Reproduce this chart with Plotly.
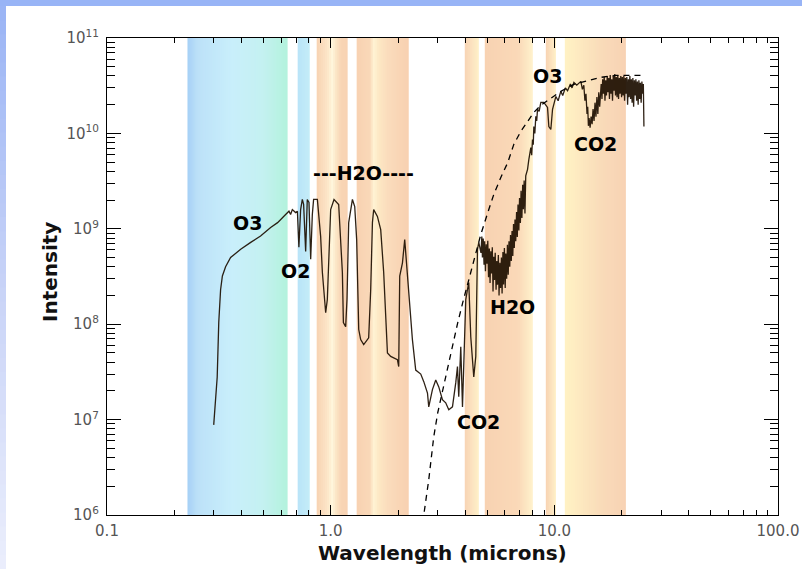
import numpy as np
import plotly.graph_objects as go

# ---------------- data ----------------
spec_wl = [0.30, 0.311, 0.316, 0.322, 0.328, 0.339, 0.357, 0.396, 0.439, 0.486,
           0.539, 0.579, 0.629, 0.651, 0.662, 0.674, 0.697, 0.710, 0.721, 0.734,
           0.747, 0.757, 0.773, 0.786, 0.800, 0.814, 0.828, 0.839, 0.872, 0.902,
           0.918, 0.950, 0.966, 1.0, 1.035, 1.086, 1.128, 1.14, 1.167, 1.183,
           1.204, 1.251, 1.281, 1.307, 1.335, 1.362, 1.405, 1.479, 1.510, 1.537,
           1.557, 1.618, 1.674, 1.726, 1.794, 1.855, 1.988, 2.015, 2.036, 2.094,
           2.143, 2.204, 2.279, 2.320, 2.400, 2.528, 2.608, 2.709, 2.745, 2.851,
           2.950, 3.043, 3.160, 3.269, 3.373, 3.504, 3.625, 3.689, 3.738, 3.817,
           3.885, 3.937, 4.018, 4.089, 4.144, 4.230, 4.305, 4.363, 4.455, 4.533,
           4.594,
           4.70, 4.74, 4.77, 4.81, 4.85, 4.88, 4.92, 4.96, 5.00, 5.04,
           5.08, 5.12, 5.16, 5.20, 5.24, 5.28, 5.32, 5.36, 5.40, 5.44,
           5.49, 5.53, 5.57, 5.62, 5.66, 5.71, 5.75, 5.80, 5.84, 5.89,
           5.93, 5.98, 6.03, 6.07, 6.12, 6.17, 6.22, 6.27, 6.32, 6.37,
           6.42, 6.47, 6.52, 6.57, 6.62, 6.67, 6.72, 6.78, 6.83, 6.88,
           6.94, 6.99, 7.05, 7.10, 7.16, 7.22, 7.27, 7.33, 7.39, 7.45,
           7.59, 7.69, 7.85, 7.92, 7.987, 8.05, 8.096, 8.18, 8.265, 8.34, 8.411, 8.55, 8.703,
           8.974, 9.324, 9.450, 9.646, 9.817, 10.16, 10.40, 10.69, 10.90, 11.20,
           11.46, 11.80, 12.00, 12.23, 12.60, 13.14, 13.35, 13.55, 13.70, 13.85,
           14.00, 14.10, 14.20, 14.30, 14.45, 14.60, 14.75, 14.90, 15.05, 15.20,
           15.35, 15.50, 15.65, 15.80, 15.95, 16.10,
           16.20, 16.33, 16.45, 16.58, 16.71, 16.84, 16.97, 17.10, 17.24, 17.37,
           17.51, 17.64, 17.78, 17.92, 18.06, 18.20, 18.34, 18.48, 18.63, 18.77,
           18.92, 19.07, 19.22, 19.37, 19.52, 19.67, 19.82, 19.98, 20.13, 20.29,
           20.45, 20.61, 20.77, 20.93, 21.09, 21.26, 21.42, 21.59, 21.76, 21.93,
           22.10, 22.27, 22.44, 22.62, 22.79, 22.97, 23.15, 23.33, 23.51, 23.70,
           23.88, 24.07, 24.25, 24.44, 24.63, 24.82, 25.00, 25.15]
spec_int = [8.8e6, 2.8e7, 1.04e8, 2.3e8, 3.2e8, 4.0e8, 5.0e8, 6.1e8, 7.2e8, 8.4e8,
            1.03e9, 1.16e9, 1.41e9, 1.53e9, 1.41e9, 1.59e9, 1.48e9, 1.53e9, 6.4e8, 1.59e9,
            2.03e9, 1.8e9, 5.8e8, 2.03e9, 1.89e9, 4.8e8, 1.41e9, 2.03e9, 2.03e9, 8.3e8,
            3.5e8, 1.32e8, 1.81e8, 1.59e9, 2.03e9, 1.8e9, 3.5e8, 1.04e8, 9.4e7, 1.81e8,
            1.16e9, 2.03e9, 1.71e9, 7.7e8, 8.8e7, 6.9e7, 6.1e7, 7.2e7, 2.3e8, 1.16e9,
            1.59e9, 1.35e9, 9.8e8, 3.5e8, 5.0e7, 4.6e7, 4.25e7, 3.6e7, 3.2e8, 4.4e8,
            7.7e8, 3.5e8, 1.12e8, 6.9e7, 3.3e7, 3.0e7, 2.5e7, 1.9e7, 1.36e7, 2.06e7,
            2.6e7, 2.2e7, 1.62e7, 1.5e7, 1.27e7, 1.36e7, 2.44e7, 3.6e7, 1.74e7, 5.8e7,
            1.36e7, 3.95e7, 1.81e8, 2.31e8, 2.73e8, 7.4e7, 4.6e7, 2.8e7, 4.6e7, 6.1e8,
            7.2e8,
            5.6e8, 8.3e8, 5.0e8, 7.9e8, 4.2e8, 7.4e8, 3.6e8, 6.9e8, 4.3e8, 7.5e8,
            3.1e8, 6.2e8, 2.7e8, 5.8e8, 3.4e8, 6.4e8, 2.2e8, 5.1e8, 2.9e8, 5.6e8,
            2.3e8, 4.6e8, 2.6e8, 5.3e8, 2.0e8, 4.4e8, 2.4e8, 5.0e8, 2.1e8, 5.7e8,
            2.6e8, 6.3e8, 2.4e8, 5.5e8, 3.0e8, 6.8e8, 3.3e8, 7.4e8, 4.0e8, 8.6e8,
            4.6e8, 9.5e8, 5.2e8, 1.12e9, 6.3e8, 1.25e9, 7.4e8, 1.5e9, 8.2e8, 1.8e9,
            9.6e8, 2.1e9, 1.15e9, 2.5e9, 1.3e9, 2.9e9, 1.6e9, 3.2e9, 1.45e9, 3.6e9,
            4.2e9, 5.3e9, 7.1e9, 5.9e9, 8.65e9, 7.6e9, 1.18e10, 1.0e10, 1.51e10, 1.35e10, 1.79e10, 1.7e10, 2.11e10,
            2.11e10, 1.87e10, 1.18e10, 1.10e10, 1.79e10, 2.44e10, 2.2e10, 2.76e10, 2.5e10, 3.0e10,
            2.8e10, 3.3e10, 3.0e10, 3.43e10, 3.2e10, 3.51e10, 2.9e10, 3.2e10, 2.2e10, 2.6e10,
            1.6e10, 1.9e10, 1.2e10, 1.45e10, 1.15e10, 1.5e10, 1.25e10, 1.8e10, 1.35e10, 2.1e10,
            1.5e10, 2.4e10, 1.6e10, 2.7e10, 1.9e10, 3.1e10,
            3.3e10, 2.3e10, 3.7e10, 2.6e10, 3.9e10, 2.2e10, 3.6e10, 2.5e10, 4.0e10, 2.7e10,
            3.8e10, 2.3e10, 4.1e10, 2.6e10, 3.7e10, 2.2e10, 4.0e10, 2.8e10, 4.2e10, 2.5e10,
            3.9e10, 2.4e10, 4.1e10, 2.3e10, 3.8e10, 2.6e10, 4.0e10, 2.4e10, 3.9e10, 2.5e10,
            4.0e10, 2.2e10, 3.8e10, 2.6e10, 3.9e10, 2.0e10, 3.7e10, 2.4e10, 4.0e10, 2.3e10,
            3.7e10, 2.1e10, 3.8e10, 1.9e10, 3.6e10, 2.5e10, 3.7e10, 2.2e10, 3.5e10, 2.0e10,
            3.6e10, 2.3e10, 3.4e10, 2.1e10, 3.5e10, 2.6e10, 3.3e10, 1.18e10]

bb_wl = [2.528, 2.608, 2.745, 2.890, 3.011, 3.170, 3.338, 3.515, 3.70, 3.896,
         4.061, 4.275, 4.501, 4.690, 5.041, 5.362, 5.763, 6.194, 6.589, 7.079,
         7.610, 8.096, 8.703, 9.646, 10.69, 12.23, 14.12, 16.15, 18.85, 25.15]
bb_int = [4.9e5, 1.0e6, 2.34e6, 6.6e6, 1.18e7, 2.06e7, 3.59e7, 6.41e7, 1.04e8, 1.69e8,
          2.42e8, 3.74e8, 5.78e8, 8.71e8, 1.48e9, 2.29e9, 3.45e9, 4.96e9, 7.67e9, 1.05e10,
          1.34e10, 1.66e10, 1.97e10, 2.33e10, 2.76e10, 3.27e10, 3.60e10, 3.87e10, 4.06e10, 4.06e10]

band_start = [0.229, 0.712, 0.866, 1.307, 3.977, 4.887, 9.16, 11.14]
band_end = [0.642, 0.806, 1.191, 2.234, 4.594, 8.012, 10.16, 20.89]

label_text = ["O3", "O2", "---H2O----", "H2O", "CO2", "O3", "CO2"]
label_wl = [0.425, 0.697, 1.405, 6.52, 4.59, 9.35, 15.34]
label_int = [1.16e9, 3.65e8, 3.89e9, 1.53e8, 9.5e6, 3.98e10, 7.66e9]

x_tickvals = [0.1, 1.0, 10.0, 100.0]
x_ticktext = ["0.1", "1.0", "10.0", "100.0"]
y_tickvals = [1e6, 1e7, 1e8, 1e9, 1e10, 1e11]
y_ticktext = ["10<sup>6</sup>", "10<sup>7</sup>", "10<sup>8</sup>",
              "10<sup>9</sup>", "10<sup>10</sup>", "10<sup>11</sup>"]

# ---------------- style ----------------
band_stops = [
    [(0, "#a6d0f6"), (0.1, "#bce1f8"), (0.45, "#c9effb"), (0.75, "#c4f1f1"), (1, "#b3f2dc")],
    [(0, "#b9e4f8"), (1, "#c4ecf8")],
    [(0, "#f8d2b2"), (0.35, "#fde6c8"), (0.5, "#fff6dc"), (0.65, "#fbe3c3"), (0.8, "#f8d4b4"), (1, "#f8d3b3")],
    [(0, "#f8d2b2"), (0.25, "#f9d8b8"), (0.33, "#fff3d4"), (0.42, "#fde8c4"), (0.6, "#fadcbc"), (1, "#f8d0b0")],
    [(0, "#f8d3b3"), (0.5, "#fbe2c0"), (1, "#fff1c8")],
    [(0, "#f8d2b2"), (0.7, "#fad9b8"), (1, "#fff2cc")],
    [(0, "#f8d3b3"), (1, "#fff0c8")],
    [(0, "#fff2c4"), (0.25, "#fde9c0"), (0.6, "#f9dbb9"), (1, "#f8d2b4")],
]


def hex_rgb(h):
    h = h.lstrip("#")
    return np.array([int(h[i:i + 2], 16) for i in (0, 2, 4)], dtype=float)


def interp_color(stops, t):
    for (t0, c0), (t1, c1) in zip(stops[:-1], stops[1:]):
        if t0 <= t <= t1:
            f = 0 if t1 == t0 else (t - t0) / (t1 - t0)
            c = hex_rgb(c0) * (1 - f) + hex_rgb(c1) * f
            return "rgb(%d,%d,%d)" % tuple(np.round(c))
    return stops[-1][1]


shapes = []
for a, b, stops in zip(band_start, band_end, band_stops):
    la, lb = np.log10(a), np.log10(b)
    n = max(8, int((lb - la) * 223.5 / 2))
    for i in range(n):
        x0 = 10 ** (la + (lb - la) * i / n)
        x1 = 10 ** (la + (lb - la) * min(1.0, (i + 1.6) / n))
        col = interp_color(stops, (i + 0.5) / n)
        shapes.append(dict(type="rect", xref="x", yref="paper", x0=x0, x1=x1, y0=0, y1=1,
                           fillcolor=col, line=dict(width=0), layer="below"))

# page frame: top strip and left gradient strip
W, H = 802, 569
L, R, T, B = 107, 24, 38, 54
pw, ph = W - L - R, H - T - B


def px_x(p):
    return (p - L) / pw


def px_y(p):
    return (H - B - p) / ph


shapes.append(dict(type="rect", xref="paper", yref="paper", x0=px_x(-5), x1=px_x(W + 5),
                   y0=px_y(6), y1=px_y(-5), fillcolor="#98b4f6", line=dict(width=0), layer="above"))
left_stops = [(0, "#9ab4f5"), (0.5, "#c8d3f7"), (1, "#ebeefc")]
nl = 40
for i in range(nl):
    p0 = 6 + (H - 6) * i / nl
    p1 = 6 + (H - 6) * min(1.0, (i + 1.6) / nl)
    shapes.append(dict(type="rect", xref="paper", yref="paper", x0=px_x(-5), x1=px_x(6),
                       y0=px_y(p1), y1=px_y(p0), fillcolor=interp_color(left_stops, (i + 0.5) / nl),
                       line=dict(width=0), layer="above"))

fig = go.Figure()
fig.add_trace(go.Scatter(x=spec_wl, y=spec_int, mode="lines",
                         line=dict(color="rgba(28,14,0,0.92)", width=1.3), hoverinfo="skip"))
fig.add_trace(go.Scatter(x=bb_wl, y=bb_int, mode="lines",
                         line=dict(color="black", width=1.3, dash="6px,5px"), hoverinfo="skip"))

annotations = []
for t, xw, yi in zip(label_text, label_wl, label_int):
    annotations.append(dict(x=np.log10(xw), y=np.log10(yi), xref="x", yref="y", text=t,
                            showarrow=False, xanchor="center", yanchor="middle",
                            font=dict(family="DejaVu Sans", size=19, color="black", weight="bold")))
annotations.append(dict(x=0.5, y=px_y(553), xref="paper", yref="paper", text="Wavelength (microns)",
                        showarrow=False, xanchor="center", yanchor="middle",
                        font=dict(family="DejaVu Sans", size=20, color="#111", weight="bold")))
annotations.append(dict(x=px_x(50), y=px_y(272), xref="paper", yref="paper", text="Intensity",
                        showarrow=False, textangle=-90, xanchor="center", yanchor="middle",
                        font=dict(family="DejaVu Sans", size=20, color="#111", weight="bold")))

x_minor = [m * 10.0 ** e for e in range(-1, 2) for m in range(2, 10)]
y_minor = [m * 10.0 ** e for e in range(6, 11) for m in range(2, 10)]

tick_font = dict(family="DejaVu Sans", size=15, color="#555")

fig.update_layout(
    width=W, height=H, autosize=False,
    margin=dict(l=L, r=R, t=T, b=B, pad=0, autoexpand=False),
    paper_bgcolor="white", plot_bgcolor="white",
    showlegend=False,
    shapes=shapes, annotations=annotations,
    xaxis=dict(type="log", range=[-1, 2], showgrid=False, zeroline=False, automargin=False,
               showline=True, linecolor="black", linewidth=1.3, mirror="allticks",
               ticks="inside", ticklen=10, tickwidth=1, tickcolor="black",
               tickmode="array", tickvals=x_tickvals, ticktext=x_ticktext,
               ticklabelstandoff=2, tickfont=tick_font,
               minor=dict(ticks="inside", ticklen=5, tickwidth=1, tickcolor="black",
                          tickmode="array", tickvals=x_minor, showgrid=False)),
    yaxis=dict(type="log", range=[6, 11], showgrid=False, zeroline=False, automargin=False,
               showline=True, linecolor="black", linewidth=1.3, mirror="allticks",
               ticks="inside", ticklen=14, tickwidth=1, tickcolor="black",
               tickmode="array", tickvals=y_tickvals, ticktext=y_ticktext,
               ticklabelstandoff=4, tickfont=tick_font,
               minor=dict(ticks="inside", ticklen=8, tickwidth=1, tickcolor="black",
                          tickmode="array", tickvals=y_minor, showgrid=False)),
)

fig.write_html("out.html", config={"displayModeBar": False},
               post_script="document.body.style.margin='0px';document.body.style.padding='0px';")
